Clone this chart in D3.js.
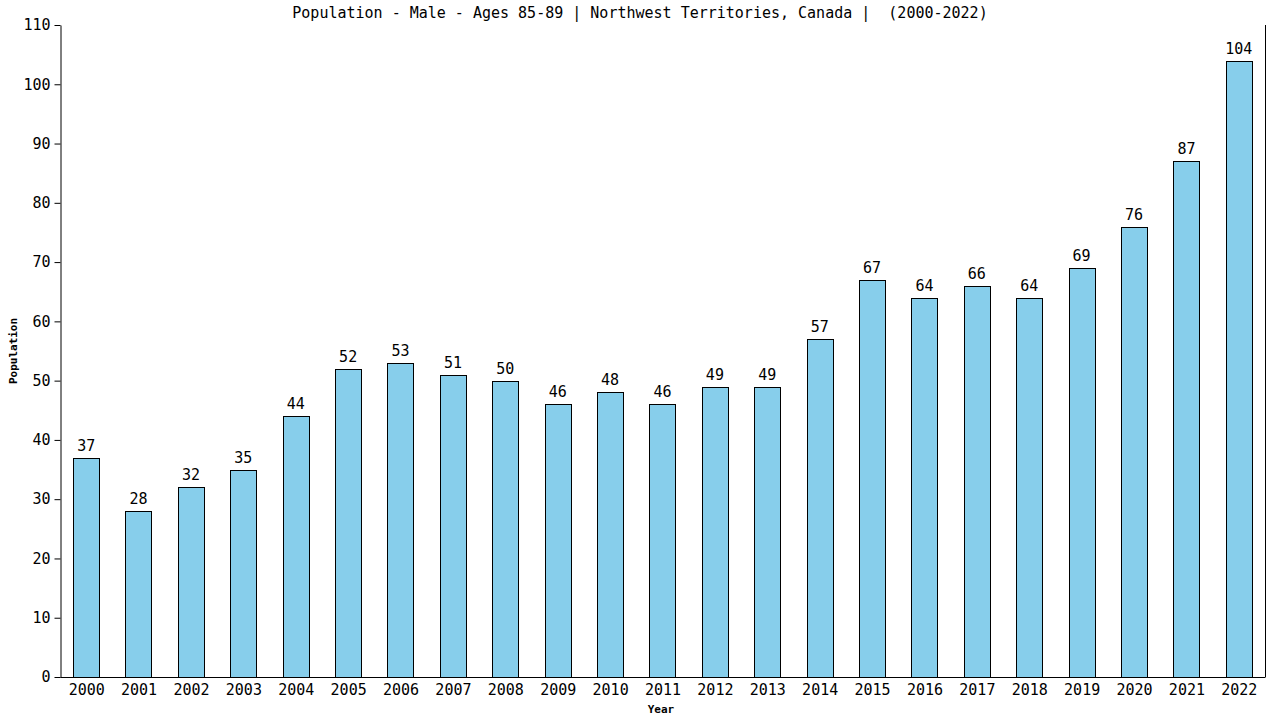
<!DOCTYPE html>
<html>
<head>
<meta charset="utf-8">
<script src="https://cdn.jsdelivr.net/npm/d3@7"></script>
<style>
  body { margin: 0; background: #fff; }
  text { font-family: "DejaVu Sans Mono", monospace; }
</style>
</head>
<body>
<div id="chart"></div>
<script>
var years = ["2000","2001","2002","2003","2004","2005","2006","2007","2008","2009","2010","2011",
             "2012","2013","2014","2015","2016","2017","2018","2019","2020","2021","2022"];
var population = [37,28,32,35,44,52,53,51,50,46,48,46,49,49,57,67,64,66,64,69,76,87,104];
var yTicks = [0,10,20,30,40,50,60,70,80,90,100,110];

function init() {
    var w = 1280, h = 720;
    var left = 60.5, right = 1265.5, top = 25, bottom = 677;

    var svg = d3.select("#chart").append("svg")
                .attr("width", w)
                .attr("height", h);

    var x = d3.scaleBand().domain(years).range([left, right]).paddingInner(0.5).paddingOuter(0.25);
    var y = d3.scaleLinear().domain([0, 110]).range([bottom, top]);

    // bars
    svg.selectAll("rect.bar")
        .data(population)
        .enter()
        .append("rect")
        .attr("class", "bar")
        .attr("x", function(d, i) { return Math.floor(x(years[i])) + 0.5; })
        .attr("y", function(d) { return Math.round(y(d)) + 0.5; })
        .attr("width", Math.round(x.bandwidth()))
        .attr("height", function(d) { return Math.round(y(0)) - Math.round(y(d)); })
        .attr("fill", "#87ceeb")
        .attr("stroke", "#000")
        .attr("stroke-width", 1);

    // value labels
    svg.selectAll("text.val")
        .data(population)
        .enter()
        .append("text")
        .attr("class", "val")
        .attr("x", function(d, i) { return x(years[i]) + x.bandwidth() / 2 - 0.5; })
        .attr("y", function(d) { return y(d) - 7; })
        .attr("text-anchor", "middle")
        .attr("font-size", 15)
        .text(function(d) { return d; });

    // axes
    var xAxis = d3.axisBottom(x).tickSize(5).tickSizeOuter(0);
    var yAxis = d3.axisLeft(y).tickValues(yTicks).tickSize(6).tickSizeOuter(0);

    var gx = svg.append("g")
        .attr("transform", "translate(0," + bottom + ")")
        .call(xAxis);
    gx.select(".domain").attr("d", "M" + left + ",0.5H" + right);
    gx.selectAll(".tick line").remove();
    gx.selectAll("text").attr("font-size", 15).attr("font-family", "DejaVu Sans Mono").attr("fill", "#000").attr("y", 7).attr("dy", "0.71em");

    var gy = svg.append("g")
        .attr("transform", "translate(" + left + ",0)")
        .call(yAxis);
    gy.selectAll("text").attr("font-size", 15).attr("font-family", "DejaVu Sans Mono").attr("fill", "#000").attr("x", -10);

    // right border
    svg.append("line")
        .attr("x1", right).attr("x2", right)
        .attr("y1", top).attr("y2", bottom)
        .attr("stroke", "#000");

    // titles
    svg.append("text")
        .attr("x", 640).attr("y", 18)
        .attr("text-anchor", "middle")
        .attr("font-size", 15)
        .style("white-space", "pre")
        .text("Population - Male - Ages 85-89 | Northwest Territories, Canada |  (2000-2022)");

    svg.append("text")
        .attr("x", 661).attr("y", 713)
        .attr("text-anchor", "middle")
        .attr("font-size", 11)
        .attr("font-weight", "bold")
        .text("Year");

    svg.append("text")
        .attr("transform", "translate(17,351) rotate(-90)")
        .attr("text-anchor", "middle")
        .attr("font-size", 11)
        .attr("font-weight", "bold")
        .text("Population");
}

window.onload = init;
</script>
</body>
</html>
